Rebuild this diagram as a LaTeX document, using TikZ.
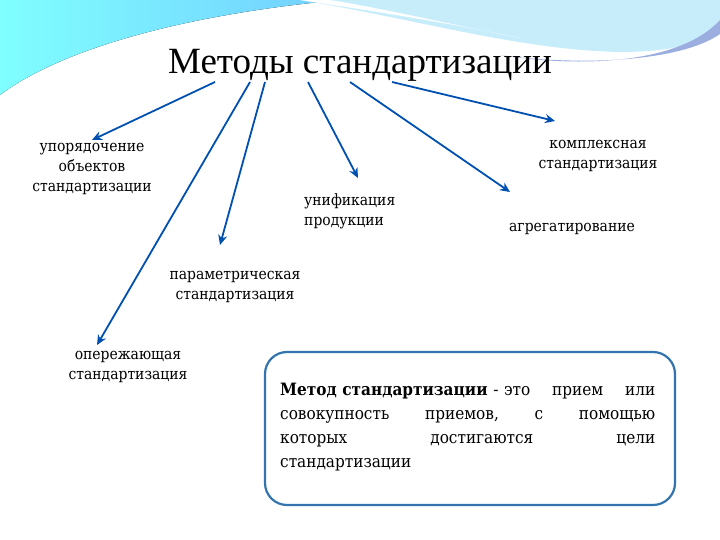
\documentclass[tikz,border=0pt]{standalone}
\usepackage{fontspec}
\setmainfont{Liberation Serif}
\newfontfamily\lbl{DejaVu Serif Condensed}
\usetikzlibrary{arrows.meta}
\begin{document}
\begin{tikzpicture}[x=1pt,y=-1pt,
  arr/.style={draw=blue!55!cyan!70!black,line width=1.8pt,-{Stealth[length=10pt,width=9pt]}},
  lab/.style={font=\lbl\fontsize{15.5}{20}\selectfont,align=center,inner sep=1pt},
  box/.style={draw=cyan!60!blue!80!black,line width=2.2pt,rounded corners=22pt}]
\useasboundingbox (0,0) rectangle (720,540);
\fill[white] (0,0) rectangle (720,540);
% background waves
\fill[left color=cyan!50,right color=blue!35!cyan!55] (0,0) -- (0,95) .. controls (60,50) and (180,15) .. (340,0) -- cycle;
\fill[cyan!22] (300,0) .. controls (420,20) and (520,50) .. (620,52) .. controls (680,52) and (705,40) .. (720,30) -- (720,0) -- cycle;
\fill[white] (300,0) .. controls (380,12) and (460,25) .. (520,38) .. controls (440,22) and (380,8) .. (330,0) -- cycle;
\fill[cyan!40!blue!40] (500,55) .. controls (580,68) and (680,64) .. (720,20) -- (720,34) .. controls (680,62) and (580,66) .. cycle;
\node (t) at (360,65) {\fontsize{37}{40}\selectfont Методы стандартизации};
\node[lab] (a) at (92,169) {упорядочение\\объектов\\стандартизации};
\node[lab] (b) at (598,156) {комплексная\\стандартизация};
\node[lab,align=left,anchor=west] (c) at (303,211) {унификация\\продукции};
\node[lab] (d) at (572,229) {агрегатирование};
\node[lab] (e) at (235,287) {параметрическая\\стандартизация};
\node[lab] (f) at (128,367) {опережающая\\стандартизация};
\coordinate (s1) at (215,82); \coordinate (s2) at (250,82); \coordinate (s3) at (265,82);
\coordinate (s4) at (308,82); \coordinate (s5) at (350,82); \coordinate (s6) at (392,82);
\draw[arr] (s1) -- (92,140);
\draw[arr] (s2) -- (97,345);
\draw[arr] (s3) -- (220,245);
\draw[arr] (s4) -- (358,178);
\draw[arr] (s5) -- (510,192);
\draw[arr] (s6) -- (555,121);
\draw[box] (265,352) rectangle (675,505);
\node[anchor=north west,text width=375pt,align=left,inner sep=0pt,font=\lbl\fontsize{17}{24}\selectfont] (g) at (280,383) {\textbf{Метод стандартизации} - это\hfill прием\hfill или\\
совокупность\hfill приемов,\hfill с\hfill помощью\\
которых\hfill достигаются\hfill цели\\
стандартизации};
\end{tikzpicture}
\end{document}
